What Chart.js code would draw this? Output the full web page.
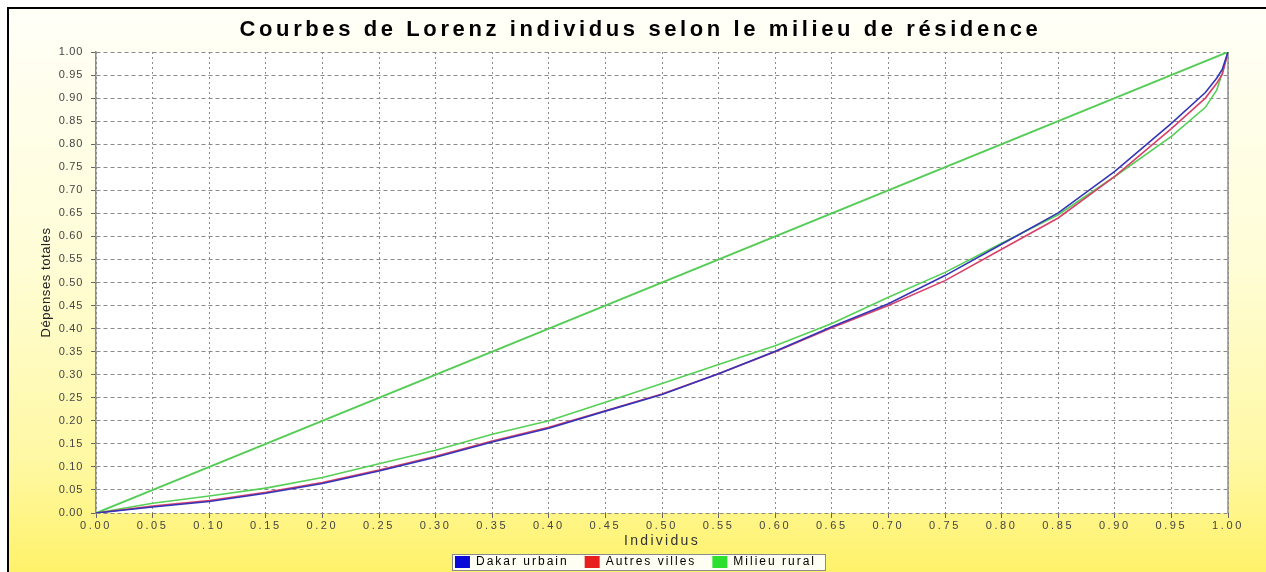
<!DOCTYPE html>
<html><head><meta charset="utf-8">
<script src="https://cdn.jsdelivr.net/npm/chart.js@4.4.0/dist/chart.umd.min.js"></script>
<style>
html,body{margin:0;padding:0;width:1266px;height:572px;overflow:hidden;background:#fff;}
#frame{position:absolute;left:7px;top:7px;width:1259px;height:565px;border-left:2px solid #000;border-top:2px solid #000;box-sizing:border-box;}
#wrap{position:absolute;left:9px;top:9px;width:1257px;height:563px;}
</style></head><body>
<div id="frame"></div>
<div id="wrap"><canvas id="c" width="1257" height="563"></canvas></div>
<script>
// ---- data ----
const xValues      = [0, 0.05, 0.10, 0.15, 0.20, 0.25, 0.30, 0.35, 0.40, 0.45, 0.50, 0.55, 0.60, 0.65, 0.70, 0.75, 0.80, 0.85, 0.90, 0.95, 0.98, 0.99, 0.995, 1.00];
const dakarUrbain  = [0, 0.013, 0.025, 0.043, 0.064, 0.091, 0.121, 0.154, 0.184, 0.221, 0.257, 0.302, 0.351, 0.404, 0.454, 0.515, 0.583, 0.651, 0.741, 0.845, 0.912, 0.943, 0.963, 1.00];
const autresVilles = [0, 0.015, 0.027, 0.045, 0.066, 0.093, 0.123, 0.156, 0.186, 0.222, 0.258, 0.302, 0.350, 0.402, 0.450, 0.504, 0.572, 0.640, 0.730, 0.834, 0.900, 0.932, 0.952, 1.00];
const milieuRural  = [0, 0.021, 0.037, 0.054, 0.077, 0.107, 0.136, 0.171, 0.200, 0.240, 0.281, 0.322, 0.363, 0.411, 0.468, 0.522, 0.585, 0.647, 0.730, 0.817, 0.880, 0.917, 0.955, 1.00];
const equalityX    = [0, 1];
const equalityY    = [0, 1];
const seriesLabels = ['Dakar urbain', 'Autres villes', 'Milieu rural'];
const tickValues   = [0, 0.05, 0.10, 0.15, 0.20, 0.25, 0.30, 0.35, 0.40, 0.45, 0.50, 0.55, 0.60, 0.65, 0.70, 0.75, 0.80, 0.85, 0.90, 0.95, 1.00];
const chartTitle   = 'Courbes de Lorenz individus selon le milieu de résidence';
const xTitle       = 'Individus';
const yTitle       = 'Dépenses totales';

// ---- styles ----
const lineColors   = ['#3434b8', '#d8406a', '#55d055'];
const legendColors = ['#0a0ad8', '#e81e1e', '#2ee02e'];
const FONT = 'Liberation Sans, Arial, Helvetica, sans-serif';
const SP = {title:'3.6px', xTicks:'2.6px', xTitle:'2.3px', yTicks:'0.7px', yTitle:'0.6px', legend:'2px'};
const SHIFT = {title: 22, legend: 17};

function pts(xs, ys){ return xs.map((x,i)=>({x:x, y:ys[i]})); }

function wrap(obj, name, spacing, opts){
  if (!obj || obj['__w_'+name]) return;
  opts = opts || {};
  const orig = obj[name];
  obj[name] = function(...a){
    const ctx = this.ctx;
    const isDraw = opts.dx !== undefined;
    let r;
    if (isDraw) { ctx.save(); ctx.translate(opts.dx, 0); if (opts.before) opts.before.call(this); }
    const prev = ctx.letterSpacing;
    ctx.letterSpacing = spacing;
    try { r = orig.apply(this, a); } finally { ctx.letterSpacing = prev; if (isDraw) ctx.restore(); }
    if (opts.after) opts.after.call(this);
    return r;
  };
  obj['__w_'+name] = true;
}

function drawLegendFrame(){
  const hb = this.legendHitBoxes;
  if (!hb || !hb.length) return;
  const ctx = this.ctx;
  let l = Infinity, r = -Infinity, c = 0;
  hb.forEach(h => { l = Math.min(l, h.left); r = Math.max(r, h.left + h.width); c = h.top + h.height/2; });
  ctx.save();
  ctx.fillStyle = '#fffef2';
  ctx.strokeStyle = '#8a8a8a';
  ctx.lineWidth = 1;
  ctx.fillRect(l - 3, c - 8, r - l + 12, 16);
  ctx.strokeRect(Math.round(l - 3) + 0.5, Math.round(c - 8) + 0.5, Math.round(r - l + 12), 16);
  ctx.restore();
}

const custom = {
  id: 'custom',
  beforeLayout(chart){
    wrap(chart.legend, 'fit', SP.legend, {after: function(){ this.height = 32; }});
    wrap(chart.legend, 'draw', SP.legend, {dx: SHIFT.legend, before: drawLegendFrame});
    wrap(chart.titleBlock, 'draw', SP.title, {dx: SHIFT.title});
    wrap(chart.scales.x, 'drawLabels', SP.xTicks);
    wrap(chart.scales.x, 'drawTitle', SP.xTitle);
    wrap(chart.scales.y, 'drawLabels', SP.yTicks);
    wrap(chart.scales.y, 'drawTitle', SP.yTitle);
  },
  beforeDraw(chart){
    const ctx = chart.ctx, a = chart.chartArea;
    ctx.save();
    const g = ctx.createLinearGradient(0, 0, 0, chart.height);
    g.addColorStop(0, '#fffff8');
    g.addColorStop(0.45, '#fffdd6');
    g.addColorStop(0.8, '#fff8a4');
    g.addColorStop(1, '#fff26a');
    ctx.fillStyle = g;
    ctx.fillRect(0, 0, chart.width, chart.height);
    ctx.fillStyle = '#ffffff';
    ctx.fillRect(a.left, a.top, a.right - a.left, a.bottom - a.top);
    ctx.restore();
  },
  beforeDatasetsDraw(chart){
    const ctx = chart.ctx, a = chart.chartArea;
    ctx.save();
    ctx.strokeStyle = '#8c8c8c';
    ctx.lineWidth = 1.5;
    ctx.beginPath();
    ctx.moveTo(a.right, a.top);
    ctx.lineTo(a.right, a.bottom);
    ctx.stroke();
    ctx.restore();
  }
};

const setTicks = s => { s.ticks = tickValues.map(v => ({value: v})); };
const fmt = v => Number(v).toFixed(2);

new Chart(document.getElementById('c'), {
  type: 'line',
  data: {
    datasets: [
      {label: seriesLabels[0], data: pts(xValues, dakarUrbain),  borderColor: lineColors[0], backgroundColor: legendColors[0], borderWidth: 1.6, pointRadius: 0, tension: 0},
      {label: seriesLabels[1], data: pts(xValues, autresVilles), borderColor: lineColors[1], backgroundColor: legendColors[1], borderWidth: 1.6, pointRadius: 0, tension: 0},
      {label: seriesLabels[2], data: pts(xValues, milieuRural),  borderColor: lineColors[2], backgroundColor: legendColors[2], borderWidth: 1.6, pointRadius: 0, tension: 0},
      {label: 'Egalité', data: pts(equalityX, equalityY), borderColor: '#55cc55', borderWidth: 2, pointRadius: 0, tension: 0}
    ]
  },
  options: {
    responsive: false,
    animation: false,
    events: [],
    layout: {padding: {left: 0, right: 38, top: 0, bottom: 0}},
    plugins: {
      title: {display: true, text: chartTitle, color: '#000', font: {family: FONT, size: 22, weight: 'bold'}, padding: {top: 8, bottom: 8.6}},
      legend: {
        position: 'bottom',
        labels: {
          boxWidth: 15, boxHeight: 12, padding: 16, color: '#000',
          font: {family: FONT, size: 12},
          generateLabels(chart){
            const items = Chart.defaults.plugins.legend.labels.generateLabels(chart);
            return items.filter(i => i.datasetIndex < 3).map(i => Object.assign({}, i, {fillStyle: legendColors[i.datasetIndex], strokeStyle: legendColors[i.datasetIndex], lineWidth: 0}));
          }
        }
      },
      tooltip: {enabled: false}
    },
    scales: {
      x: {
        type: 'linear', min: 0, max: 1,
        afterBuildTicks: setTicks,
        afterFit: s => { s.height = 27; },
        ticks: {callback: fmt, color: '#444', font: {family: FONT, size: 11}, padding: 1, maxRotation: 0, autoSkip: false},
        grid: {color: '#8a8a8a', lineWidth: 1, tickLength: 5, tickColor: '#666', tickBorderDash: []},
        border: {display: false, dash: [2, 3]},
        title: {display: true, text: xTitle, color: '#333', font: {family: FONT, size: 14}, padding: {top: 0, bottom: -9.4}}
      },
      y: {
        type: 'linear', min: 0, max: 1,
        afterBuildTicks: setTicks,
        afterFit: s => { s.width = 87; },
        ticks: {callback: fmt, color: '#444', font: {family: FONT, size: 11}, padding: 8, autoSkip: false},
        grid: {color: '#8a8a8a', lineWidth: 1, tickLength: 5, tickColor: '#666', tickBorderDash: []},
        border: {display: true, color: '#8c8c8c', width: 1.5, dash: [4, 3]},
        title: {display: true, text: yTitle, color: '#222', font: {family: FONT, size: 13}, padding: {top: 30, bottom: 0}}
      }
    }
  },
  plugins: [custom]
});
</script>
</body></html>
